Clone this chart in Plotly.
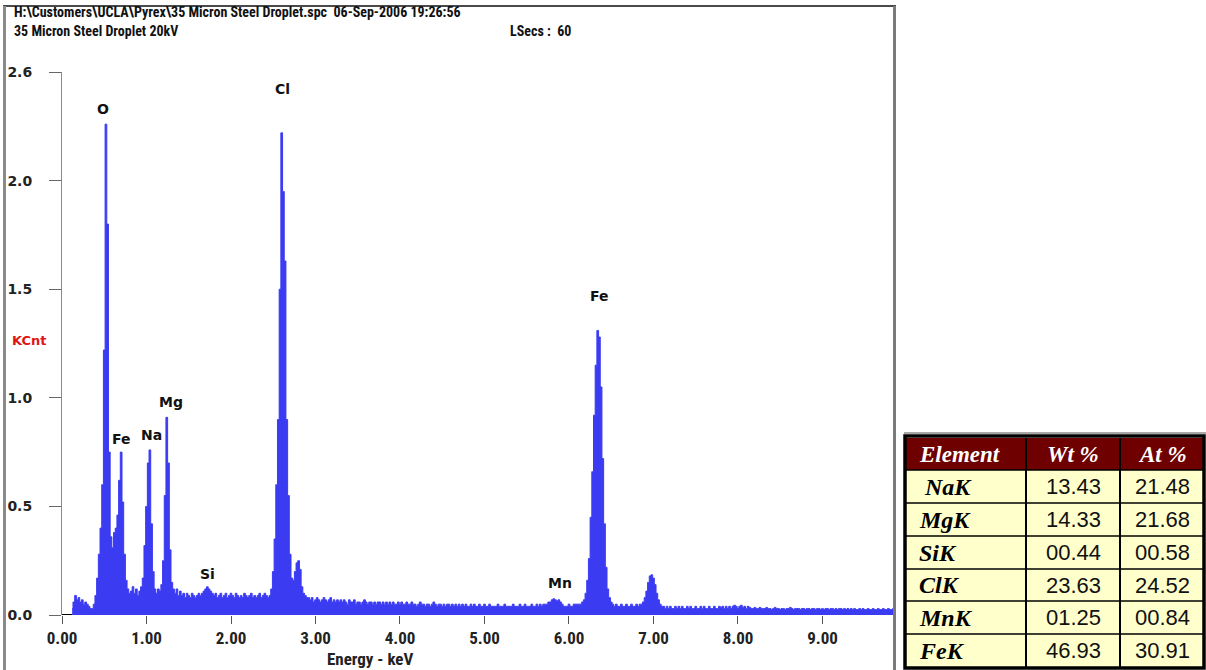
import plotly.graph_objects as go

W, H = 1206, 670

# ---- EDS spectrum: counts (KCnt) per 0.02 keV channel, starting at 0.12 keV ----
E_START = 0.12
E_STEP = 0.02
kcnt = [
    0.03, 0.06, 0.09, 0.07, 0.08, 0.06, 0.07, 0.05, 0.06, 0.05,   # 0.12-0.30
    0.04, 0.03, 0.03, 0.05, 0.09, 0.17, 0.28, 0.40, 0.60, 1.22,   # 0.32-0.50
    2.26, 1.80, 0.75, 0.36, 0.31, 0.38, 0.40, 0.46, 0.62, 0.75,   # 0.52-0.70
    0.52, 0.28, 0.16, 0.12, 0.10, 0.11, 0.13, 0.10, 0.12, 0.09,   # 0.72-0.90
    0.11, 0.13, 0.17, 0.32, 0.50, 0.70, 0.76, 0.42, 0.20, 0.12,   # 0.92-1.10
    0.10, 0.12, 0.11, 0.14, 0.25, 0.55, 0.91, 0.70, 0.30, 0.15,   # 1.12-1.30
    0.12, 0.10, 0.12, 0.09, 0.11, 0.09, 0.10, 0.08, 0.10, 0.09,   # 1.32-1.50
    0.08, 0.10, 0.09, 0.08, 0.09, 0.10, 0.09, 0.10, 0.11, 0.12,   # 1.52-1.70
    0.13, 0.12, 0.11, 0.10, 0.09, 0.10, 0.08, 0.09, 0.10, 0.08,   # 1.72-1.90
    0.09, 0.10, 0.08, 0.09, 0.10, 0.09, 0.08, 0.10, 0.09, 0.08,   # 1.92-2.10
    0.09, 0.08, 0.10, 0.09, 0.08, 0.09, 0.10, 0.08, 0.09, 0.08,   # 2.12-2.30
    0.09, 0.10, 0.08, 0.09, 0.10, 0.09, 0.08, 0.09, 0.12, 0.20,   # 2.32-2.50
    0.35, 0.60, 0.90, 1.50, 2.22, 1.95, 1.63, 0.90, 0.55, 0.28,   # 2.52-2.70
    0.17, 0.16, 0.20, 0.24, 0.25, 0.21, 0.13, 0.10, 0.09, 0.08,   # 2.72-2.90
    0.08, 0.07, 0.08, 0.06, 0.07, 0.08, 0.07, 0.06, 0.07, 0.08,   # 2.92-3.10
    0.07, 0.06, 0.07, 0.08, 0.06, 0.07, 0.06, 0.07, 0.06, 0.07,   # 3.12-3.30
    0.06, 0.07, 0.06, 0.05, 0.07, 0.06, 0.06, 0.07, 0.05, 0.06,   # 3.32-3.50
    0.06, 0.05, 0.06, 0.07, 0.06, 0.05, 0.06, 0.06, 0.05, 0.06,   # 3.52-3.70
    0.05, 0.06, 0.06, 0.05, 0.06, 0.05, 0.06, 0.05, 0.06, 0.05,   # 3.72-3.90
    0.06, 0.05, 0.05, 0.06, 0.05, 0.06, 0.05, 0.05, 0.06, 0.05,   # 3.92-4.10
    0.05, 0.06, 0.05, 0.05, 0.04, 0.05, 0.06, 0.05, 0.05, 0.04,   # 4.12-4.30
    0.05, 0.05, 0.04, 0.05, 0.06, 0.05, 0.04, 0.05, 0.05, 0.04,   # 4.32-4.50
    0.05, 0.04, 0.05, 0.05, 0.04, 0.05, 0.04, 0.05, 0.04, 0.05,   # 4.52-4.70
    0.04, 0.05, 0.04, 0.05, 0.04, 0.04, 0.05, 0.04, 0.05, 0.04,   # 4.72-4.90
    0.04, 0.05, 0.04, 0.04, 0.05, 0.04, 0.04, 0.05, 0.04, 0.04,   # 4.92-5.10
    0.04, 0.04, 0.05, 0.04, 0.04, 0.04, 0.05, 0.04, 0.04, 0.04,   # 5.12-5.30
    0.04, 0.05, 0.04, 0.04, 0.04, 0.05, 0.04, 0.04, 0.05, 0.04,   # 5.32-5.50
    0.04, 0.04, 0.05, 0.04, 0.04, 0.05, 0.04, 0.05, 0.04, 0.05,   # 5.52-5.70
    0.05, 0.05, 0.06, 0.06, 0.07, 0.075, 0.07, 0.065, 0.07, 0.06, # 5.72-5.90
    0.05, 0.04, 0.04, 0.04, 0.05, 0.04, 0.04, 0.05, 0.05, 0.05,   # 5.92-6.10
    0.05, 0.05, 0.06, 0.07, 0.10, 0.16, 0.26, 0.45, 0.66, 0.92,   # 6.12-6.30
    1.15, 1.31, 1.28, 1.05, 0.72, 0.42, 0.22, 0.12, 0.08, 0.06,   # 6.32-6.50
    0.05, 0.04, 0.05, 0.04, 0.04, 0.05, 0.04, 0.04, 0.05, 0.04,   # 6.52-6.70
    0.04, 0.05, 0.04, 0.04, 0.05, 0.04, 0.05, 0.05, 0.06, 0.08,   # 6.72-6.90
    0.11, 0.15, 0.18, 0.185, 0.17, 0.14, 0.10, 0.07, 0.05, 0.04,  # 6.92-7.10
    0.04, 0.03, 0.04, 0.03, 0.04, 0.03, 0.03, 0.04, 0.03, 0.04,   # 7.12-7.30
    0.03, 0.04, 0.03, 0.03, 0.04, 0.03, 0.04, 0.03, 0.03, 0.04,   # 7.32-7.50
    0.03, 0.03, 0.04, 0.03, 0.04, 0.03, 0.03, 0.04, 0.03, 0.03,   # 7.52-7.70
    0.04, 0.03, 0.03, 0.04, 0.035, 0.04, 0.03, 0.04, 0.03, 0.04,  # 7.72-7.90
    0.03, 0.04, 0.045, 0.04, 0.03, 0.04, 0.045, 0.035, 0.04, 0.03, # 7.92-8.10
    0.04, 0.035, 0.03, 0.03, 0.035, 0.03, 0.03, 0.035, 0.03, 0.03, # 8.12-8.30
    0.03, 0.035, 0.03, 0.03, 0.025, 0.03, 0.035, 0.03, 0.03, 0.025, # 8.32-8.50
    0.03, 0.03, 0.025, 0.03, 0.03, 0.035, 0.03, 0.025, 0.03, 0.03, # 8.52-8.70
    0.03, 0.025, 0.03, 0.03, 0.025, 0.03, 0.03, 0.025, 0.03, 0.03, # 8.72-8.90
    0.025, 0.03, 0.03, 0.025, 0.03, 0.025, 0.03, 0.03, 0.025, 0.03, # 8.92-9.10
    0.03, 0.025, 0.03, 0.025, 0.03, 0.03, 0.025, 0.03, 0.025, 0.03, # 9.12-9.30
    0.025, 0.03, 0.025, 0.03, 0.025, 0.025, 0.03, 0.025, 0.03, 0.025, # 9.32-9.50
    0.025, 0.03, 0.025, 0.025, 0.03, 0.025, 0.025, 0.03, 0.025, 0.025, # 9.52-9.70
    0.03, 0.025, 0.025, 0.03, 0.025, 0.025, 0.03, 0.025,              # 9.72-9.86
]
energy = [round(E_START + E_STEP * i, 2) for i in range(len(kcnt))]

# ---- peak identification labels ----
peak_names = ["O", "Fe", "Na", "Mg", "Si", "Cl", "Mn", "Fe"]
peak_label_x = [0.49, 0.70, 1.06, 1.29, 1.72, 2.61, 5.89, 6.36]
peak_label_y = [2.33, 0.81, 0.83, 0.98, 0.19, 2.42, 0.147, 1.47]

# ---- axes ----
x_tickvals = [0, 1, 2, 3, 4, 5, 6, 7, 8, 9]
x_ticktext = ["0.00", "1.00", "2.00", "3.00", "4.00", "5.00", "6.00", "7.00", "8.00", "9.00"]
y_tickvals = [0, 0.5, 1.0, 1.5, 2.0, 2.5]
y_ticktext = ["0.0", "0.5", "1.0", "1.5", "2.0", "2.6"]
X_RANGE = [0, 9.87]
Y_RANGE = [0, 2.5]

# ---- header text ----
file_path = "H:\\Customers\\UCLA\\Pyrex\\35 Micron Steel Droplet.spc"
timestamp = "06-Sep-2006 19:26:56"
sample_desc = "35 Micron Steel Droplet 20kV"
live_secs = "LSecs :\u00a0\u00a060"

# ---- quantification table ----
table_header = ["Element", "Wt %", "At %"]
elements = ["\u00a0NaK", "MgK", "SiK", "ClK", "MnK", "FeK"]
wt_pct = ["13.43", "14.33", "00.44", "23.63", "01.25", "46.93"]
at_pct = ["21.48", "21.68", "00.58", "24.52", "00.84", "30.91"]

SPEC_BLUE = "#3b3bf2"
NARROW = "Roboto Condensed, DejaVu Sans Condensed, Arial Narrow, sans-serif"
BOLD_SANS = "DejaVu Sans, Verdana, sans-serif"
SERIF = "Liberation Serif, Times New Roman, serif"
PLAIN_SANS = "Liberation Sans, Arial, sans-serif"

# table grid (pixel positions of column / row edges)
COL_EDGES = [906, 1026, 1120, 1204]
ROW_EDGES = [438, 470, 503, 536, 569, 601, 634, 667]


def px(x):
    return x / W


def py(y):
    return 1 - y / H


fig = go.Figure()

fig.add_trace(go.Scatter(
    x=energy, y=kcnt,
    mode="lines",
    line=dict(color=SPEC_BLUE, width=1, shape="hvh"),
    fill="tozeroy", fillcolor=SPEC_BLUE,
    hoverinfo="x+y", showlegend=False,
))

annotations = []
for name, ex, ey in zip(peak_names, peak_label_x, peak_label_y):
    annotations.append(dict(
        x=ex, y=ey, xref="x", yref="y", text=f"<b>{name}</b>", showarrow=False,
        font=dict(family=BOLD_SANS, size=14, color="#111111"),
        xanchor="center", yanchor="middle",
    ))

header_font = dict(family=NARROW, size=14, color="#111111")
annotations += [
    dict(x=px(12), y=py(12.5), xref="paper", yref="paper",
         text=f"<b>{file_path}\u00a0\u00a0{timestamp}</b>",
         showarrow=False, xanchor="left", yanchor="middle", font=header_font),
    dict(x=px(12), y=py(31), xref="paper", yref="paper", text=f"<b>{sample_desc}</b>",
         showarrow=False, xanchor="left", yanchor="middle", font=header_font),
    dict(x=px(508), y=py(31), xref="paper", yref="paper", text=f"<b>{live_secs}</b>",
         showarrow=False, xanchor="left", yanchor="middle", font=header_font),
    dict(x=px(10), y=py(340), xref="paper", yref="paper", text="<b>KCnt</b>",
         showarrow=False, xanchor="left", yanchor="middle",
         font=dict(family=BOLD_SANS, size=13, color="#e01515")),
    dict(x=px(370), y=py(659), xref="paper", yref="paper", text="<b>Energy - keV</b>",
         showarrow=False, xanchor="center", yanchor="middle",
         font=dict(family=NARROW, size=17, color="#222222")),
]

shapes = [
    # black zero line before the first counted channel
    dict(type="line", xref="x", yref="y", x0=X_RANGE[0], x1=energy[0], y0=0, y1=0,
         line=dict(color="black", width=2)),
    # window frame
    dict(type="line", xref="paper", yref="paper", x0=px(3), x1=px(896), y0=py(6), y1=py(6),
         line=dict(color="#4a4a4a", width=2)),
    dict(type="line", xref="paper", yref="paper", x0=px(4.5), x1=px(4.5), y0=0, y1=py(6),
         line=dict(color="#8a8a8a", width=3)),
    dict(type="line", xref="paper", yref="paper", x0=px(894.5), x1=px(894.5), y0=0, y1=py(6),
         line=dict(color="#7a7a7a", width=3)),
]

# ---- quantification table drawn as cells ----
shapes.append(dict(type="line", xref="paper", yref="paper", x0=px(904), x1=px(1206),
                   y0=py(433), y1=py(433), line=dict(color="#a8a8a8", width=2)))
shapes.append(dict(type="rect", xref="paper", yref="paper", x0=px(COL_EDGES[0]), x1=px(COL_EDGES[-1]),
                   y0=py(ROW_EDGES[1]), y1=py(ROW_EDGES[0]), fillcolor="#6e0000", line=dict(width=0),
                   layer="above"))
shapes.append(dict(type="rect", xref="paper", yref="paper", x0=px(COL_EDGES[0]), x1=px(COL_EDGES[-1]),
                   y0=py(ROW_EDGES[-1]), y1=py(ROW_EDGES[1]), fillcolor="#ffffcc", line=dict(width=0),
                   layer="above"))
for yb in ROW_EDGES[1:-1]:
    shapes.append(dict(type="line", xref="paper", yref="paper", x0=px(COL_EDGES[0]), x1=px(COL_EDGES[-1]),
                       y0=py(yb), y1=py(yb), line=dict(color="black", width=1.5)))
for xb in COL_EDGES[1:-1]:
    shapes.append(dict(type="line", xref="paper", yref="paper", x0=px(xb), x1=px(xb),
                       y0=py(ROW_EDGES[-1]), y1=py(ROW_EDGES[0]), line=dict(color="black", width=2)))
shapes.append(dict(type="rect", xref="paper", yref="paper", x0=px(COL_EDGES[0] - 1), x1=px(COL_EDGES[-1]),
                   y0=py(ROW_EDGES[-1] + 1), y1=py(ROW_EDGES[0] - 2), line=dict(color="black", width=3.5)))

col_x = [COL_EDGES[0] + 11, (COL_EDGES[1] + COL_EDGES[2]) / 2, (COL_EDGES[2] + COL_EDGES[3]) / 2]
col_anchor = ["left", "center", "center"]
row_mid = [(a + b) / 2 for a, b in zip(ROW_EDGES[:-1], ROW_EDGES[1:])]

for c, htxt in enumerate(table_header):
    annotations.append(dict(
        x=px(col_x[c]), y=py(row_mid[0]), xref="paper", yref="paper",
        text=f"<b><i>{htxt}</i></b>", showarrow=False, xanchor=col_anchor[c], yanchor="middle",
        font=dict(family=SERIF, size=23, color="white")))
for r, (el, wt, at) in enumerate(zip(elements, wt_pct, at_pct)):
    ym = py(row_mid[r + 1])
    annotations.append(dict(
        x=px(col_x[0]), y=ym, xref="paper", yref="paper", text=f"<b><i>{el}</i></b>",
        showarrow=False, xanchor="left", yanchor="middle",
        font=dict(family=SERIF, size=24, color="black")))
    for c, val in ((1, wt), (2, at)):
        annotations.append(dict(
            x=px(col_x[c]), y=ym, xref="paper", yref="paper", text=val,
            showarrow=False, xanchor="center", yanchor="middle",
            font=dict(family=PLAIN_SANS, size=22, color="#111111")))

fig.update_layout(
    width=W, height=H,
    margin=dict(l=0, r=0, t=0, b=0, autoexpand=False),
    paper_bgcolor="white", plot_bgcolor="white",
    showlegend=False,
    xaxis=dict(
        domain=[px(62), px(896)], range=X_RANGE,
        showgrid=False, zeroline=False, showline=False,
        ticks="outside", ticklen=8, tickwidth=1, tickcolor="#555555",
        tickvals=x_tickvals, ticktext=x_ticktext,
        tickfont=dict(family=NARROW, size=17, color="#222222", weight="bold"),
    ),
    yaxis=dict(
        domain=[py(615), py(72)], range=Y_RANGE,
        showgrid=False, zeroline=False,
        showline=True, linecolor="#8a8a8a", linewidth=1,
        ticks="outside", ticklen=12, tickwidth=1, tickcolor="#666666",
        tickvals=y_tickvals, ticktext=y_ticktext,
        ticklabelstandoff=14,
        tickfont=dict(family=BOLD_SANS, size=14, color="#222222", weight="bold"),
    ),
    annotations=annotations,
    shapes=shapes,
)

fig.write_html("out.html")
